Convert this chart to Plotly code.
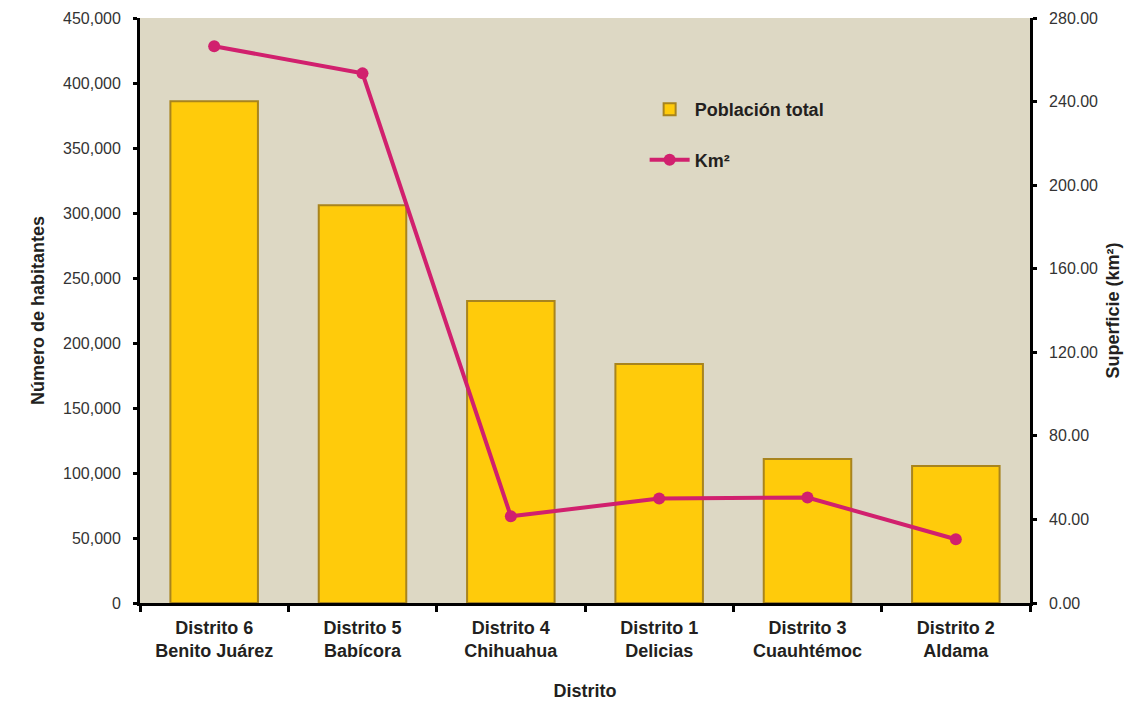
import plotly.graph_objects as go

categorias = ["Distrito 6<br>Benito Juárez", "Distrito 5<br>Babícora", "Distrito 4<br>Chihuahua",
              "Distrito 1<br>Delicias", "Distrito 3<br>Cuauhtémoc", "Distrito 2<br>Aldama"]
poblacion = [386000, 306000, 232300, 183800, 110800, 105400]
km2 = [266.5, 253.5, 41.5, 50.0, 50.5, 30.5]

left_ticks = list(range(0, 450001, 50000))
left_labels = [f"{v:,}  " for v in left_ticks]
right_ticks = list(range(0, 281, 40))
right_labels = [f"  {v:.2f}" for v in right_ticks]

fig = go.Figure()
fig.add_trace(go.Bar(
    x=categorias, y=poblacion, name="<b>Población total</b>", legendgroup="a",
    marker=dict(color="#FFCB0B", line=dict(color="#A8841E", width=2)),
    width=0.59, yaxis="y",
))
fig.add_trace(go.Scatter(
    x=categorias, y=km2, name="<b>Km²</b>", mode="lines+markers", legendgroup="b",
    line=dict(color="#D1206E", width=4),
    marker=dict(color="#D1206E", size=12),
    yaxis="y2",
))

font = "Liberation Sans, Arial, sans-serif"
fig.update_layout(
    width=1137, height=693,
    margin=dict(l=132, r=115, t=10, b=98, autoexpand=False),
    paper_bgcolor="white", plot_bgcolor="#DDD8C4",
    font=dict(family=font, color="#231F20", size=14),
    showlegend=True,
    legend=dict(x=0.567, y=0.875, xanchor="left", yanchor="top",
                bgcolor="rgba(0,0,0,0)", font=dict(size=18, family=font, color="#231F20"),
                tracegroupgap=24, itemwidth=40),
    xaxis=dict(
        automargin=False,
        showline=True, linecolor="black", linewidth=3,
        ticks="outside", tickson="boundaries", ticklen=6, tickwidth=3, tickcolor="black",
        tickfont=dict(size=18, family=font, color="#231F20"),
        ticklabelstandoff=6,
        title=dict(text="<b>Distrito</b>", font=dict(size=18), standoff=26),
        showgrid=False, range=[-0.5, 5.5],
        tickvals=categorias, ticktext=[f"<b>{c}</b>" for c in categorias], tickangle=0,
    ),
    yaxis=dict(
        automargin=False,
        range=[0, 450000], tickvals=left_ticks, ticktext=left_labels,
        showline=True, linecolor="black", linewidth=3,
        ticks="outside", ticklen=4, tickwidth=3, tickcolor="black",
        showgrid=False, zeroline=False,
        tickfont=dict(size=16, color="#333333"),
        title=dict(text="<b>Número de habitantes</b>", font=dict(size=18), standoff=14),
    ),
    yaxis2=dict(
        automargin=False,
        range=[0, 280], tickvals=right_ticks, ticktext=right_labels,
        overlaying="y", side="right",
        showline=True, linecolor="black", linewidth=3,
        ticks="outside", ticklen=4, tickwidth=3, tickcolor="black",
        showgrid=False, zeroline=False,
        tickfont=dict(size=16, color="#333333"),
        title=dict(text="<b>Superficie (km²)</b>", font=dict(size=18), standoff=10),
    ),
)

fig.write_html("out.html")
